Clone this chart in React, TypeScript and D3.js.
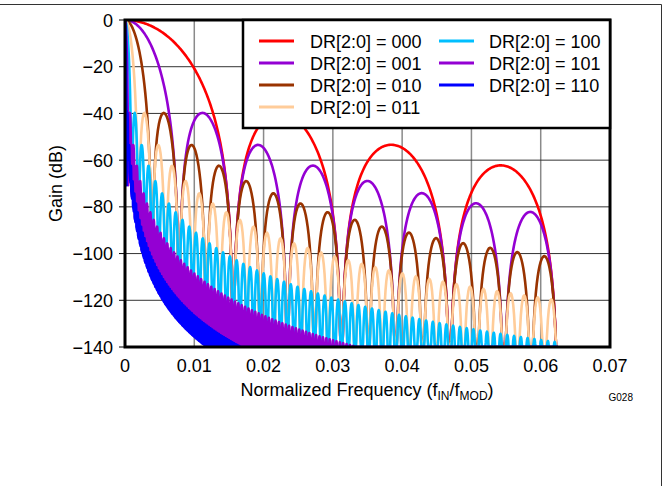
import React from "react";
import * as d3 from "d3";

// ---- data ----
const drCodes = ["000", "001", "010", "011", "100", "101", "110"];
const decimationRatios = [64, 128, 256, 512, 1024, 2048, 4096];
const seriesColors = ["#ff0000", "#9400d3", "#993300", "#ffcc99", "#00bfff", "#9400d3", "#0000ff"];
// depth (dB below the lobe envelope) that the plotted nulls reach (limited by the plot's frequency sampling)
const visibleNullDepthDb = [200, 90, 75, 50, 36, 27, 9];
const sincOrder = 3;
const freqEnd = 0.0625;
const xTicks = [0, 0.01, 0.02, 0.03, 0.04, 0.05, 0.06, 0.07];
const yTicks = [0, -20, -40, -60, -80, -100, -120, -140];

const W = 669;
const H = 486;
const P = { left: 125, right: 610, top: 20, bottom: 347 };
const FONT = "'Liberation Sans', Arial, Helvetica, sans-serif";

const x = d3.scaleLinear().domain([0, 0.07]).range([P.left, P.right]);
const y = d3.scaleLinear().domain([-140, 0]).range([P.bottom, P.top]);

function gainDb(f: number, N: number, depth: number): number {
  if (f === 0) return 0;
  const den = N * Math.sin(Math.PI * f);
  const r = Math.abs(Math.sin(Math.PI * f * N) / den);
  let db = 20 * sincOrder * Math.log10(r);
  if (f * N >= 1 - 1e-9) {
    const env = -20 * sincOrder * Math.log10(den);
    db = Math.max(db, env - depth);
  }
  return Math.max(db, -140);
}

function seriesPoints(N: number, depth: number): [number, number][] {
  const lobes = Math.round(freqEnd * N);
  const pxPerLobe = x(1 / N) - x(0);
  const spl = Math.max(16, Math.ceil(pxPerLobe));
  const pts: [number, number][] = [];
  for (let i = 0; i <= lobes * spl; i++) {
    const f = i / (N * spl);
    pts.push([f, gainDb(f, N, depth)]);
  }
  pts.push([freqEnd, -140]);
  return pts;
}

const line = d3
  .line<[number, number]>()
  .x((d) => x(d[0]))
  .y((d) => y(d[1]));

export default function App() {
  const series = decimationRatios.map((N, i) => ({
    code: drCodes[i],
    color: seriesColors[i],
    path: line(seriesPoints(N, visibleNullDepthDb[i])) || "",
  }));

  const legendCols = [
    { lineX: 259, textX: 310 },
    { lineX: 439, textX: 489 },
  ];
  const legendRowY = [41, 63, 85, 107];

  return (
    <svg
      width={W}
      height={H}
      style={{ position: "absolute", left: 0, top: 0, background: "#fff" }}
      fontFamily={FONT}
    >
      <rect x={0} y={0} width={W} height={H} fill="#fff" />
      {/* frame */}
      <line x1={0} x2={661.5} y1={4.5} y2={4.5} stroke="#333" strokeWidth={1} />
      <line x1={661.5} x2={661.5} y1={4.5} y2={H} stroke="#333" strokeWidth={1} />

      <defs>
        <clipPath id="plotClip">
          <rect x={P.left} y={P.top} width={P.right - P.left} height={P.bottom - P.top} />
        </clipPath>
      </defs>

      {/* grid */}
      {xTicks.slice(1, -1).map((t) => (
        <line key={"gx" + t} x1={x(t)} x2={x(t)} y1={P.top} y2={P.bottom} stroke="#8a8a8a" strokeWidth={1.5} />
      ))}
      {yTicks.slice(1, -1).map((t) => (
        <line key={"gy" + t} x1={P.left} x2={P.right} y1={y(t)} y2={y(t)} stroke="#333" strokeWidth={1} />
      ))}

      {/* curves */}
      <g clipPath="url(#plotClip)">
        {series.map((s) => (
          <path
            key={s.code}
            d={s.path}
            fill="none"
            stroke={s.color}
            strokeWidth={2.6}
            strokeLinejoin="round"
          />
        ))}
      </g>

      {/* left ticks */}
      {yTicks.map((t) => (
        <line key={"ty" + t} x1={P.left - 6} x2={P.left} y1={y(t)} y2={y(t)} stroke="#000" strokeWidth={1} />
      ))}

      {/* border */}
      <rect
        x={P.left}
        y={P.top}
        width={P.right - P.left}
        height={P.bottom - P.top}
        fill="none"
        stroke="#000"
        strokeWidth={3}
      />

      {/* legend */}
      <rect x={243} y={P.top} width={P.right - 243} height={108} fill="#fff" stroke="#000" strokeWidth={2.5} />
      {series.map((s, i) => {
        const col = legendCols[i < 4 ? 0 : 1];
        const yy = legendRowY[i < 4 ? i : i - 4];
        return (
          <g key={"lg" + s.code}>
            <line x1={col.lineX} x2={col.lineX + 35} y1={yy} y2={yy} stroke={s.color} strokeWidth={3} />
            <text x={col.textX} y={yy + 6.5} fontSize={18} fill="#000">
              {`DR[2:0] = ${s.code}`}
            </text>
          </g>
        );
      })}

      {/* tick labels */}
      {xTicks.map((t) => (
        <text key={"lx" + t} x={x(t)} y={372} fontSize={18} textAnchor="middle" fill="#000">
          {t === 0 ? "0" : t.toFixed(2)}
        </text>
      ))}
      {yTicks.map((t) => (
        <text key={"ly" + t} x={113} y={y(t) + 6.5} fontSize={18} textAnchor="end" fill="#000">
          {t === 0 ? "0" : "\u2212" + Math.abs(t)}
        </text>
      ))}

      {/* axis titles */}
      <text x={367} y={396} fontSize={18} textAnchor="middle" fill="#000">
        Normalized Frequency (f
        <tspan fontSize={12} dy={4}>IN</tspan>
        <tspan dy={-4}>/f</tspan>
        <tspan fontSize={12} dy={4}>MOD</tspan>
        <tspan dy={-4}>)</tspan>
      </text>
      <text
        transform={`translate(62, ${(P.top + P.bottom) / 2}) rotate(-90)`}
        fontSize={18}
        textAnchor="middle"
        fill="#000"
      >
        Gain (dB)
      </text>
      <text x={633} y={401} fontSize={10} textAnchor="end" fill="#000">
        G028
      </text>
    </svg>
  );
}
